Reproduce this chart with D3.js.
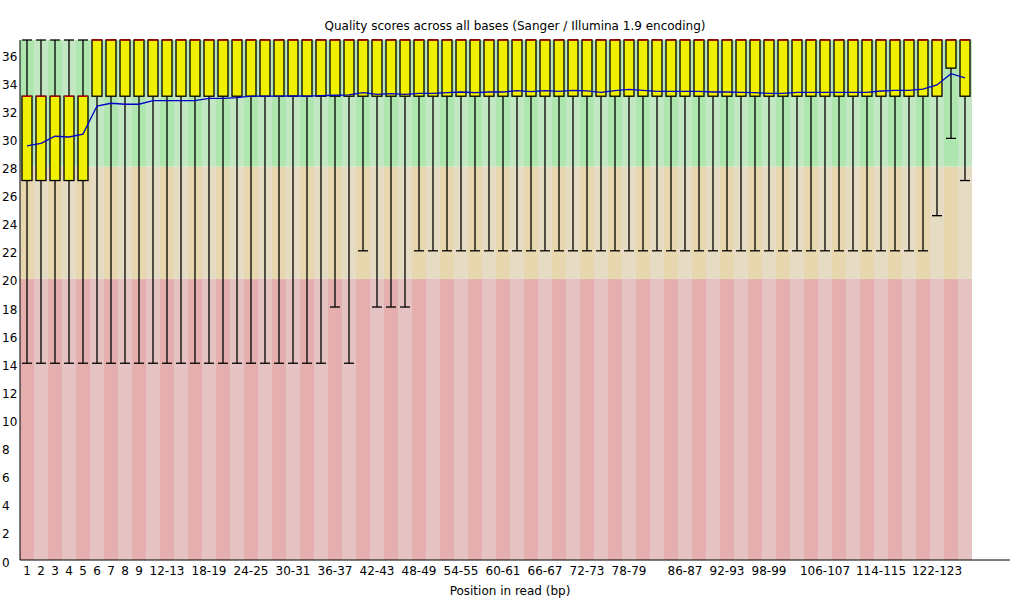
<!DOCTYPE html>
<html>
<head>
<meta charset="utf-8">
<script src="https://cdn.jsdelivr.net/npm/d3@7"></script>
<style>
  html, body { margin: 0; padding: 0; background: #fff; }
  svg { display: block; font-family: "DejaVu Sans", sans-serif; }
</style>
</head>
<body>
<svg id="chart" width="1020" height="600"></svg>
<script>
/* Per base sequence quality box plot (FastQC style). */

const positions = [
  "1","2","3","4","5","6","7","8","9",
  "10-11","12-13","14-15","16-17","18-19","20-21","22-23","24-25","26-27","28-29",
  "30-31","32-33","34-35","36-37","38-39","40-41","42-43","44-45","46-47","48-49",
  "50-51","52-53","54-55","56-57","58-59","60-61","62-63","64-65","66-67","68-69",
  "70-71","72-73","74-75","76-77","78-79","80-81","82-83","84-85","86-87","88-89",
  "90-91","92-93","94-95","96-97","98-99","100-101","102-103","104-105","106-107","108-109",
  "110-111","112-113","114-115","116-117","118-119","120-121","122-123","124-125","126-127"
];

// labels that fit on the axis
const shownLabels = [
  "1","2","3","4","5","6","7","8","9","12-13","18-19","24-25","30-31","36-37",
  "42-43","48-49","54-55","60-61","66-67","72-73","78-79","86-87","92-93","98-99",
  "106-107","114-115","122-123"
];

const yTicks = [0,2,4,6,8,10,12,14,16,18,20,22,24,26,28,30,32,34,36];

const meanQ = [
  29.46,29.65,30.15,30.1,30.3,32.3,32.5,32.43,32.43,
  32.68,32.68,32.68,32.68,32.85,32.85,32.9,33.0,33.0,33.0,
  33.02,33.0,33.04,33.07,33.09,33.25,33.13,33.18,33.13,33.2,
  33.2,33.25,33.3,33.25,33.3,33.3,33.4,33.33,33.4,33.35,
  33.42,33.38,33.27,33.4,33.49,33.42,33.35,33.35,33.35,33.35,
  33.3,33.3,33.27,33.25,33.2,33.2,33.27,33.27,33.27,33.27,
  33.27,33.27,33.37,33.42,33.42,33.5,33.8,34.6,34.3
];

const medianQ = [
  33,33,33,33,33,37,37,37,37,
  37,37,37,37,37,37,37,37,37,37,
  37,37,37,37,37,37,37,37,37,37,
  37,37,37,37,37,37,37,37,37,37,
  37,37,37,37,37,37,37,37,37,37,
  37,37,37,37,37,37,37,37,37,37,
  37,37,37,37,37,37,37,37,37
];

const lowerQuartile = [
  27,27,27,27,27,33,33,33,33,
  33,33,33,33,33,33,33,33,33,33,
  33,33,33,33,33,33,33,33,33,33,
  33,33,33,33,33,33,33,33,33,33,
  33,33,33,33,33,33,33,33,33,33,
  33,33,33,33,33,33,33,33,33,33,
  33,33,33,33,33,33,33,35,33
];

const upperQuartile = [
  33,33,33,33,33,37,37,37,37,
  37,37,37,37,37,37,37,37,37,37,
  37,37,37,37,37,37,37,37,37,37,
  37,37,37,37,37,37,37,37,37,37,
  37,37,37,37,37,37,37,37,37,37,
  37,37,37,37,37,37,37,37,37,37,
  37,37,37,37,37,37,37,37,37
];

const percentile10 = [
  14,14,14,14,14,14,14,14,14,
  14,14,14,14,14,14,14,14,14,14,
  14,14,14,18,14,22,18,18,18,22,
  22,22,22,22,22,22,22,22,22,22,
  22,22,22,22,22,22,22,22,22,22,
  22,22,22,22,22,22,22,22,22,22,
  22,22,22,22,22,22,24.5,30,27
];

const percentile90 = [
  37,37,37,37,37,37,37,37,37,
  37,37,37,37,37,37,37,37,37,37,
  37,37,37,37,37,37,37,37,37,37,
  37,37,37,37,37,37,37,37,37,37,
  37,37,37,37,37,37,37,37,37,37,
  37,37,37,37,37,37,37,37,37,37,
  37,37,37,37,37,37,37,37,37
];

// quality zones: [from, to, light, dark]
const zones = [
  [0, 20, "rgb(230,195,195)", "rgb(230,175,175)"],
  [20, 28, "rgb(230,220,195)", "rgb(230,215,175)"],
  [28, 37, "rgb(195,230,195)", "rgb(175,230,175)"]
];

const W = 1020, H = 600;
const svg = d3.select("#chart");

const x = d3.scaleBand().domain(positions).range([20, 20 + 14 * positions.length]).padding(0);
const y = d3.scaleLinear().domain([0, 37]).range([560, 40]);
const bw = x.bandwidth();

const rows = positions.map((p, i) => ({
  p, i,
  mean: meanQ[i], median: medianQ[i],
  lq: lowerQuartile[i], uq: upperQuartile[i],
  lo: percentile10[i], hi: percentile90[i]
}));

// background stripes
const bg = svg.append("g");
zones.forEach(([a, b, light, dark]) => {
  bg.selectAll(null)
    .data(rows)
    .join("rect")
    .attr("x", (d) => x(d.p))
    .attr("y", y(b))
    .attr("width", bw)
    .attr("height", y(a) - y(b))
    .attr("fill", (d) => (d.i % 2 === 0 ? dark : light));
});

// whiskers
const boxes = svg.append("g").attr("stroke", "#000").attr("stroke-width", 1.3);
const cx = (d) => x(d.p) + bw / 2;

boxes.selectAll("line.wu").data(rows).join("line").attr("class", "wu")
  .attr("x1", cx).attr("x2", cx).attr("y1", (d) => y(d.uq)).attr("y2", (d) => y(d.hi));
boxes.selectAll("line.wl").data(rows).join("line").attr("class", "wl")
  .attr("x1", cx).attr("x2", cx).attr("y1", (d) => y(d.lq)).attr("y2", (d) => y(d.lo));
boxes.selectAll("line.cu").data(rows).join("line").attr("class", "cu")
  .attr("x1", (d) => x(d.p) + 2).attr("x2", (d) => x(d.p) + bw - 2)
  .attr("y1", (d) => y(d.hi)).attr("y2", (d) => y(d.hi));
boxes.selectAll("line.cl").data(rows).join("line").attr("class", "cl")
  .attr("x1", (d) => x(d.p) + 2).attr("x2", (d) => x(d.p) + bw - 2)
  .attr("y1", (d) => y(d.lo)).attr("y2", (d) => y(d.lo));

// boxes
boxes.selectAll("rect").data(rows).join("rect")
  .attr("x", (d) => x(d.p) + 2)
  .attr("y", (d) => y(d.uq))
  .attr("width", bw - 4)
  .attr("height", (d) => y(d.lq) - y(d.uq))
  .attr("fill", "rgb(240,240,0)");

// medians
svg.append("g").selectAll("line").data(rows).join("line")
  .attr("x1", (d) => x(d.p) + 2).attr("x2", (d) => x(d.p) + bw - 2)
  .attr("y1", (d) => y(d.median)).attr("y2", (d) => y(d.median))
  .attr("stroke", "rgb(200,0,0)").attr("stroke-width", 1.3);

// mean line
svg.append("path")
  .datum(rows)
  .attr("fill", "none")
  .attr("stroke", "rgb(0,0,200)")
  .attr("stroke-width", 1.3)
  .attr("d", d3.line().x(cx).y((d) => y(d.mean)));

// axes
svg.append("line").attr("x1", 20).attr("x2", 20).attr("y1", 40).attr("y2", 560)
  .attr("stroke", "#000");
svg.append("line").attr("x1", 20).attr("x2", W - 10).attr("y1", 560).attr("y2", 560)
  .attr("stroke", "#000");

const yAxis = svg.append("g")
  .attr("transform", "translate(20,0)")
  .call(d3.axisLeft(y).tickValues(yTicks).tickSize(0).tickFormat(d3.format("d")));
yAxis.select(".domain").remove();
yAxis.selectAll("text")
  .attr("x", -18).attr("dy", null).attr("y", 6)
  .attr("text-anchor", "start")
  .attr("fill", "#000")
  .style("font-size", "12px")
  .style("font-family", "DejaVu Sans, sans-serif");

const xAxis = svg.append("g")
  .attr("transform", "translate(0,560)")
  .call(d3.axisBottom(x).tickValues(shownLabels).tickSize(0));
xAxis.select(".domain").remove();
xAxis.selectAll("text")
  .attr("y", 15).attr("dy", null)
  .attr("fill", "#000")
  .style("font-size", "12px")
  .style("font-family", "DejaVu Sans, sans-serif");

svg.append("text")
  .attr("x", 515).attr("y", 30)
  .attr("text-anchor", "middle")
  .style("font-size", "12px")
  .text("Quality scores across all bases (Sanger / Illumina 1.9 encoding)");

svg.append("text")
  .attr("x", W / 2).attr("y", H - 5)
  .attr("text-anchor", "middle")
  .style("font-size", "12px")
  .text("Position in read (bp)");
</script>
</body>
</html>
